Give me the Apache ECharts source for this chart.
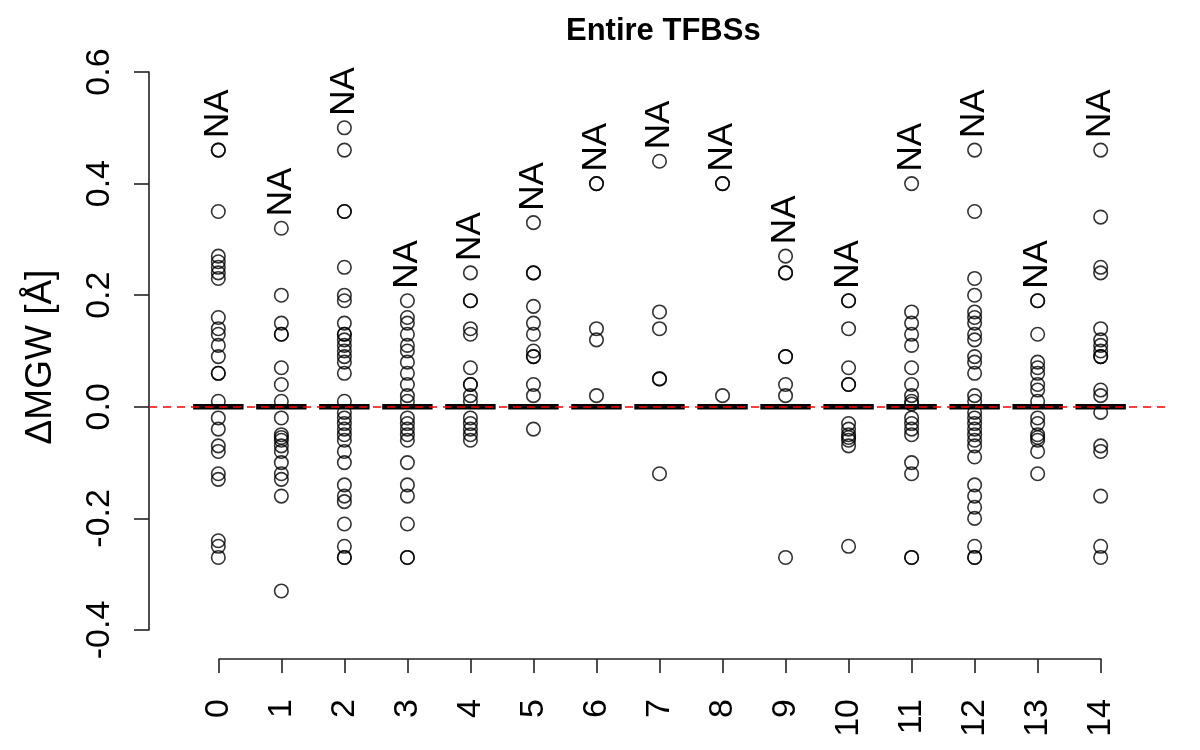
<!DOCTYPE html>
<html><head><meta charset="utf-8">
<script src="https://cdn.jsdelivr.net/npm/echarts@6/dist/echarts.min.js"></script>
<style>html,body{margin:0;padding:0;background:#fff}#c{width:1200px;height:750px}</style>
</head><body><div id="c"></div>
<script>
const categories = ['0','1','2','3','4','5','6','7','8','9','10','11','12','13','14'];
const yTickLabels = ['-0.4','-0.2','0.0','0.2','0.4','0.6'];
const naLabels = ['NA','NA','NA','NA','NA','NA','NA','NA','NA','NA','NA','NA','NA','NA','NA'];
const medians = [0,0,0,0,0,0,0,0,0,0,0,0,0,0,0];

const g0 = [0.46,0.46,0.35,0.27,0.26,0.25,0.24,0.23,0.16,0.14,0.13,0.11,0.09,0.06,0.06,0.01,-0.02,-0.04,-0.07,-0.08,-0.12,-0.13,-0.24,-0.25,-0.27];
const g1 = [0.32,0.20,0.15,0.13,0.13,0.07,0.04,0.01,-0.02,-0.05,-0.055,-0.06,-0.07,-0.08,-0.10,-0.12,-0.13,-0.16,-0.33];
const g2 = [0.50,0.46,0.35,0.35,0.25,0.20,0.19,0.15,0.13,0.13,0.12,0.11,0.10,0.09,0.08,0.06,0.01,-0.01,-0.02,-0.03,-0.04,-0.05,-0.06,-0.08,-0.10,-0.14,-0.16,-0.17,-0.21,-0.25,-0.27,-0.27];
const g3 = [0.19,0.16,0.15,0.13,0.11,0.10,0.08,0.06,0.04,0.02,0.01,-0.02,-0.03,-0.04,-0.05,-0.06,-0.10,-0.14,-0.16,-0.21,-0.27,-0.27];
const g4 = [0.24,0.19,0.19,0.14,0.13,0.07,0.04,0.04,0.02,0.01,-0.02,-0.03,-0.04,-0.05,-0.06];
const g5 = [0.33,0.24,0.24,0.18,0.15,0.13,0.10,0.09,0.09,0.04,0.02,-0.04];
const g6 = [0.40,0.40,0.14,0.12,0.02];
const g7 = [0.44,0.17,0.14,0.05,0.05,-0.12];
const g8 = [0.40,0.40,0.02];
const g9 = [0.27,0.24,0.24,0.09,0.09,0.04,0.02,-0.27];
const g10 = [0.19,0.19,0.14,0.07,0.04,0.04,-0.03,-0.04,-0.05,-0.055,-0.06,-0.07,-0.25];
const g11 = [0.40,0.17,0.15,0.13,0.11,0.07,0.04,0.02,0.01,0.005,-0.02,-0.03,-0.04,-0.05,-0.10,-0.12,-0.27,-0.27];
const g12 = [0.46,0.35,0.23,0.20,0.17,0.16,0.15,0.13,0.12,0.09,0.08,0.06,0.02,0.01,-0.01,-0.02,-0.03,-0.04,-0.05,-0.06,-0.07,-0.09,-0.14,-0.16,-0.18,-0.20,-0.25,-0.27,-0.27];
const g13 = [0.19,0.19,0.13,0.08,0.07,0.06,0.04,0.03,0.01,-0.02,-0.03,-0.05,-0.055,-0.06,-0.08,-0.12];
const g14 = [0.46,0.34,0.25,0.24,0.14,0.12,0.11,0.10,0.09,0.09,0.03,0.02,-0.01,-0.07,-0.08,-0.16,-0.25,-0.27];
const groups = [g0,g1,g2,g3,g4,g5,g6,g7,g8,g9,g10,g11,g12,g13,g14];

const FONT = '"Liberation Sans", Arial, Helvetica, sans-serif';
const pts = [];
groups.forEach((g, i) => g.forEach(v => pts.push([i, v])));
const naPts = groups.map((g, i) => [i, Math.max.apply(null, g)]);
const medPts = medians.map((m, i) => [i, m]);

const chart = echarts.init(document.getElementById('c'), null, {renderer: 'canvas'});
chart.setOption({
  backgroundColor: '#ffffff',
  animation: false,
  title: {
    text: 'Entire TFBSs', left: 561, top: 11,
    textStyle: {fontFamily: FONT, fontSize: 31, fontWeight: 'bold', color: '#000'}
  },
  grid: [
    {left: 149, right: 30, top: 72, bottom: 120},
    {left: 219, right: 99, top: 55, bottom: 91}
  ],
  xAxis: [
    {gridIndex: 0, type: 'value', min: -1.1, max: 15.1, show: false},
    {gridIndex: 1, type: 'value', min: 0, max: 14, interval: 1,
     axisLine: {show: true, onZero: false, lineStyle: {color: '#222', width: 1.6}},
     axisTick: {show: true, length: 14, lineStyle: {color: '#222', width: 1.6}},
     axisLabel: {rotate: 90, fontSize: 34, fontFamily: FONT, color: '#000', margin: 40,
                 formatter: v => categories[Math.round(v)]},
     splitLine: {show: false}}
  ],
  yAxis: [
    {gridIndex: 0, type: 'value', min: -0.4, max: 0.6, interval: 0.2,
     axisLine: {show: true, onZero: false, lineStyle: {color: '#222', width: 1.6}},
     axisTick: {show: true, length: 15, lineStyle: {color: '#222', width: 1.6}},
     axisLabel: {rotate: 90, fontSize: 34, fontFamily: FONT, color: '#000', margin: 32,
                 formatter: v => yTickLabels[Math.round((v + 0.4) / 0.2)]},
     splitLine: {show: false}},
    {gridIndex: 1, type: 'value', min: 0, max: 1,
     axisLine: {show: false, onZero: false}, axisTick: {show: false}, axisLabel: {show: false}, splitLine: {show: false},
     name: 'ΔMGW [Å]', nameLocation: 'middle', nameGap: 160, nameRotate: 90,
     nameTextStyle: {fontFamily: FONT, fontSize: 37, color: '#000'}}
  ],
  series: [
    {type: 'custom', xAxisIndex: 0, yAxisIndex: 0, data: medPts, z: 2,
     renderItem: (params, api) => {
       const x = api.value(0), m = api.value(1);
       const p1 = api.coord([x - 0.4, m]), p2 = api.coord([x + 0.4, m]);
       return {type: 'line', shape: {x1: p1[0], y1: p1[1], x2: p2[0], y2: p2[1]},
               style: {stroke: '#000', lineWidth: 5.5}};
     }},
    {type: 'scatter', xAxisIndex: 0, yAxisIndex: 0, data: pts, z: 3,
     symbol: 'circle', symbolSize: 13.5,
     itemStyle: {color: 'rgba(0,0,0,0)', borderColor: '#000', borderWidth: 1.6},
     markLine: {silent: true, symbol: 'none', label: {show: false},
       lineStyle: {color: '#ff0000', type: [8, 6], width: 1.7, opacity: 1},
       data: [{yAxis: medians[0]}]}},
    {type: 'scatter', xAxisIndex: 0, yAxisIndex: 0, data: naPts, z: 4,
     symbolSize: 0, clip: false,
     label: {show: true, position: 'top', distance: 12, rotate: 90, align: 'left', verticalAlign: 'middle',
             fontSize: 35, fontFamily: FONT, color: '#000', opacity: 1, textBorderWidth: 0,
             formatter: p => naLabels[p.dataIndex]}}
  ]
});
</script></body></html>
